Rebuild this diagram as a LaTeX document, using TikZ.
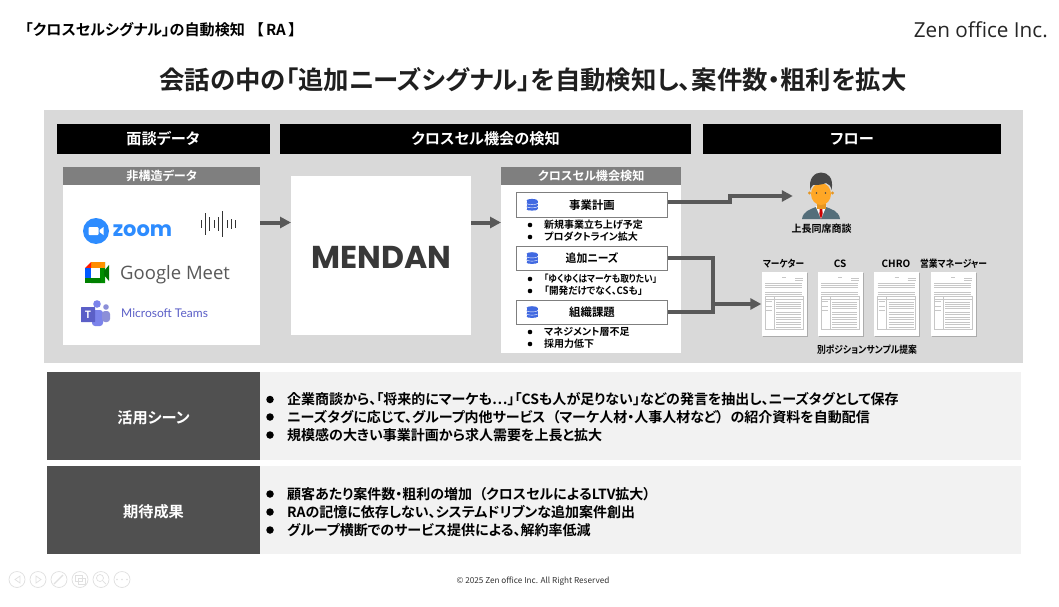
\documentclass[tikz,border=0pt]{standalone}
\usepackage{fontspec}
\setmainfont{Noto Sans CJK JP}[BoldFont={* Bold},RawFeature=+palt]
\setsansfont{Liberation Sans}
\newfontfamily\latin{Open Sans}
\newfontfamily\ms{Lato}
\newfontfamily\mont{Poppins}
\usetikzlibrary{arrows.meta,shadows}
\definecolor{panel}{HTML}{D9D9D9}
\definecolor{hdrgray}{HTML}{7F7F7F}
\definecolor{dark}{HTML}{505050}
\definecolor{soft}{HTML}{F2F2F2}
\definecolor{arrowc}{HTML}{595959}
\definecolor{zoomb}{HTML}{2D8CFF}
\definecolor{dbblue}{HTML}{4169E1}
\newcommand{\nar}[2]{\scalebox{#1}[1]{#2}}
\tikzset{
  blackhdr/.style={fill=black,text=white,font=\bfseries\fontsize{15.2}{15.2}\selectfont,inner sep=0pt,anchor=center},
  grayhdr/.style={fill=hdrgray,text=white,font=\bfseries\fontsize{12.1}{12.1}\selectfont,inner sep=0pt},
  whitebox/.style={fill=white,inner sep=0pt},
  item/.style={draw=hdrgray,line width=.6pt,fill=white,inner sep=0pt,font=\bfseries\fontsize{11.4}{11.4}\selectfont,minimum width=151pt,minimum height=24.6pt},
  flow/.style={draw=arrowc,line width=4pt,-{Triangle[length=11pt,width=11pt]}},
  flowline/.style={draw=arrowc,line width=4pt},
  blt/.style={anchor=west,inner sep=0pt,font=\fontsize{10}{10}\selectfont\bfseries},
  lbl/.style={inner sep=0pt,font=\bfseries\fontsize{10}{10}\selectfont},
  dott/.style={circle,fill=black,inner sep=0pt,minimum size=4.6pt},
  bigdot/.style={circle,fill=black,inner sep=0pt,minimum size=7.5pt},
  row/.style={anchor=west,inner sep=0pt,font=\bfseries\fontsize{14}{14}\selectfont},
  side/.style={fill=dark,inner sep=0pt,minimum width=212.5pt},
  sidetxt/.style={text=white,font=\bfseries\fontsize{15.2}{15.2}\selectfont,inner sep=0pt},
  rowbg/.style={fill=soft,inner sep=0pt},
  sheet/.style={fill=white,inner sep=0pt,minimum width=45pt,minimum height=64.5pt,drop shadow={shadow xshift=1pt,shadow yshift=-1pt,opacity=.5}},
  navbtn/.style={circle,draw=black!12,line width=.7pt,minimum size=16pt,inner sep=0pt}
}
\newcommand{\dbicon}[2]{%
  \foreach \k in {0,3.2,6.4}{\fill[dbblue] (#1-5.5,#2-4.5+\k) rectangle (#1+5.5,#2-2+\k);
  \fill[dbblue] (#1,#2-4.5+\k) ellipse (5.5pt and 1.6pt);\fill[dbblue] (#1,#2-2+\k) ellipse (5.5pt and 1.2pt);}
  \draw[white,line width=.4pt] (#1-5.5,#2-1.4) .. controls (#1-3,#2) and (#1+3,#2) .. (#1+5.5,#2-1.4);
  \draw[white,line width=.4pt] (#1-5.5,#2+1.8) .. controls (#1-3,#2+3.2) and (#1+3,#2+3.2) .. (#1+5.5,#2+1.8);}
\newcommand{\docsheet}[1]{%
  \begin{scope}[shift={(#1)},draw=black!22,line width=.12pt]
   \draw (20,5)--(24,5) (33,6)--(41,6) (33,8)--(41,8);
   \foreach \yy in {11,13,15,20,22}{\draw (3,\yy)--(40,\yy);}
   \draw (3,24.5) rectangle (41,57);
   \draw (3,27)--(41,27) (12,24.5)--(12,57);
   \foreach \yy in {30,32,34,36,40,42,45,47,50,52,55}{\draw (14,\yy)--(39,\yy);}
   \foreach \yy in {29,34,38}{\draw (4,\yy)--(10,\yy);}
  \end{scope}}
\begin{document}
\begin{tikzpicture}[x=1pt,y=-1pt]
\useasboundingbox (0,0) rectangle (1059,607);
\fill[white] (0,0) rectangle (1059,607);
% top
\node[inner sep=0pt,anchor=west,font=\bfseries\fontsize{15.1}{15.1}\selectfont] (crumb) at (25,30) {「クロスセルシグナル」の自動検知\hspace{11pt}【\,RA\,】};
\node[inner sep=0pt,anchor=east,font=\latin\fontsize{20.7}{20.7}\selectfont,text=black!85] (brand) at (1048,30) {Zen office Inc.};
\node[inner sep=0pt,font=\bfseries\fontsize{25.4}{25.4}\selectfont,text=black!88] (title) at (533,79.5) {会話の中の「追加ニーズシグナル」を自動検知し、案件数・粗利を拡大};
% panel
\node[fill=panel,inner sep=0pt,minimum width=979pt,minimum height=253pt,anchor=north west] (panelbox) at (44,110) {};
\node[blackhdr,minimum width=213pt,minimum height=30pt] (h1) at (163,139) {面談データ};
\node[blackhdr,minimum width=411pt,minimum height=30pt] (h2) at (485.5,139) {クロスセル機会の検知};
\node[blackhdr,minimum width=298pt,minimum height=30pt] (h3) at (852,139) {フロー};
% left card
\node[whitebox,minimum width=197pt,minimum height=178pt,anchor=north west] (leftcard) at (63,167) {};
\node[grayhdr,minimum width=197pt,minimum height=18pt,anchor=north west] (lefthdr) at (63,167) {非構造データ};
% zoom
\fill[zoomb] (96,231) circle (13pt);
\fill[white,rounded corners=1pt] (88.5,227) rectangle (98.5,235);
\fill[white] (99.5,230)--(103.5,227)--(103.5,235)--(99.5,232)--cycle;
\node[inner sep=0pt,font=\mont\bfseries\fontsize{21}{21}\selectfont,text=zoomb] (zoomlogo) at (142.5,231) {zoom};
% waveform
\foreach \xx/\hh in {201/4,205/11,209/7,214/4,218/7,222/13,227/4,231/5,235/4}{\draw[black!80,line width=.8pt] (\xx,224-\hh)--(\xx,224+\hh);}
% meet
\fill[green!55!black] (96,272) -- (96,262)--(101,262)--(105,262)--(105,283)--(91,283)--(91,272)--cycle;
\fill[orange!90!yellow] (91,262) rectangle (101,268);
\fill[red!80!orange] (85,268) -- (91,262) -- (91,268) -- cycle;
\fill[blue!65!cyan] (85,268) rectangle (91,278);
\fill[green!50!black] (85,278) rectangle (101,283);
\fill[orange!85!yellow] (101,262) rectangle (105,268);
\fill[white] (91,268) rectangle (100,278);
\fill[green!45!black] (104,271)--(109,265)--(109,281)--(104,275)--cycle;
\node[inner sep=0pt,font=\latin\fontsize{18.5}{18.5}\selectfont,text=black!65,anchor=west] (meetlogo) at (120,275) {Google Meet};
% teams
\definecolor{teams}{HTML}{5B5FC7}\definecolor{teamsl}{HTML}{7B83EB}
\fill[teamsl] (97,304) circle (3.8pt);\fill[teams!70] (106,307) circle (2.8pt);
\fill[teamsl,rounded corners=3pt] (92,310) rectangle (103,326);
\fill[teams!70,rounded corners=3pt] (102,311) rectangle (110,322);
\fill[teams,rounded corners=.5pt] (81,307) rectangle (95,322);
\node[inner sep=0pt,text=white,font=\bfseries\fontsize{10}{10}\selectfont] (teamsT) at (88,314.5) {T};
\node[inner sep=0pt,font=\ms\fontsize{12}{12}\selectfont,text=teams,anchor=west] (teamslogo) at (121,313) {Microsoft Teams};
% mendan
\node[whitebox,minimum width=180pt,minimum height=159pt,anchor=north west] (mendan) at (291,176) {};
\node[inner sep=0pt,font=\mont\bfseries\fontsize{31.6}{31.6}\selectfont,text=black!78] (mendantxt) at (381.5,257) {MENDAN};
% cross-sell card
\node[whitebox,minimum width=180pt,minimum height=186pt,anchor=north west] (cscard) at (501,167) {};
\node[grayhdr,minimum width=180pt,minimum height=18pt,anchor=north west] (cshdr) at (501,167) {クロスセル機会検知};
\node[item] (i1) at (592,205) {事業計画};
\node[item] (i2) at (592,258.3) {\nar{.95}{追加ニーズ}};
\node[item] (i3) at (592,312.3) {組織課題};
\dbicon{532}{205}\dbicon{532}{258.3}\dbicon{532}{312.3}
\foreach \yy/\tx in {225/新規事業立ち上げ予定,237/プロダクトライン拡大,279/\nar{.87}{「ゆくゆくはマーケも取りたい」},291/\nar{.96}{「開発だけでなく、CSも」},332/マネジメント層不足,344/採用力低下}{
  \node[dott] at (530,\yy) {};
  \node[blt] at (544,\yy) {\tx};
}
% flow
\coordinate (ar1a) at (260,222.5);\coordinate (ar2a) at (471,222.5);
\draw[flow] (ar1a) -- (mendan.west |- ar1a);
\draw[flow] (ar2a) -- (cscard.west |- ar2a);
\node[inner sep=0pt,minimum width=44pt,minimum height=48pt] (boss) at (815,195) {};
\coordinate (i1out) at ([yshift=3pt]i1.east);
\draw[flow] (i1out) -- ++(62,0) coordinate (b1) |- (boss.west |- 0,196);
\coordinate (join) at (713,304);
\node[sheet] (s1) at (784,304) {};
\node[sheet] (s2) at (840,304) {};
\node[sheet] (s3) at (896.5,304) {};
\node[sheet] (s4) at (953,304) {};
\draw[flowline] (i2.east) -| (join);
\draw[flowline] (i3.east) -| (join);
\draw[flow] (join) -- (s1.west);
\docsheet{762,272}\docsheet{818,272}\docsheet{874.5,272}\docsheet{931,272}
% person
\definecolor{suit}{HTML}{546E7A}\definecolor{skin}{HTML}{FFA726}
\fill[suit] (802,219) .. controls (803,211) and (811,209) .. (816,207) -- (826,207) .. controls (831,209) and (839,211) .. (840,219) -- cycle;
\fill[white] (815.5,206)--(826.5,206)--(821,219)--cycle;
\fill[red!80!black] (819.7,208)--(822.3,208)--(822.6,214)--(821,219)--(819.4,214)--cycle;
\fill[skin!90!black] (816.5,203) rectangle (825.5,208.5);
\fill[skin] (821,194) ellipse (10pt and 11pt);
\fill[skin!90!black] (809.5,193) circle (1.6pt) (832.5,193) circle (1.6pt);
\fill[black!72] (810.5,190) .. controls (808,178) and (815,172.5) .. (821,172.5) .. controls (828,172.5) and (834,178) .. (831.5,190) .. controls (831,186) and (829,184) .. (826,183) .. controls (822,185) and (816,185) .. (813,185) .. controls (811.5,186) and (811,188) .. (810.5,190) -- cycle;
\fill[black!72] (816.5,193) circle (.9pt) (825.5,193) circle (.9pt);
\node[lbl] (bosslbl) at (821.5,229) {上長同席商談};
\node[lbl] (sl1) at (783.5,264) {\nar{.87}{マーケター}};
\node[lbl] (sl2) at (840,264) {CS};
\node[lbl] (sl3) at (896,264) {CHRO};
\node[lbl] (sl4) at (953.5,264) {\nar{.88}{営業マネージャー}};
\node[lbl] (sl5) at (867,349.5) {\nar{.88}{別ポジションサンプル提案}};
% bottom rows
\node[rowbg,minimum width=974pt,minimum height=88pt,anchor=north west] (r1) at (47,372) {};
\node[side,minimum height=88pt,anchor=north west] (s1b) at (47,372) {};
\node[sidetxt] (s1t) at (153.5,417.5) {活用シーン};
\node[rowbg,minimum width=974pt,minimum height=88pt,anchor=north west] (r2) at (47,466) {};
\node[side,minimum height=88pt,anchor=north west] (s2b) at (47,466) {};
\node[sidetxt] (s2t) at (153.5,511.5) {期待成果};
\foreach \yy/\tx in {399.5/企業商談から、「将来的にマーケも…」「CSも人が足りない」などの発言を抽出し、ニーズタグとして保存,417/ニーズタグに応じて、グループ内他サービス\hspace{7pt}（マーケ人材・人事人材など）\hspace{7pt}の紹介資料を自動配信,435/規模感の大きい事業計画から求人需要を上長と拡大,494/顧客あたり案件数・粗利の増加\hspace{7pt}（クロスセルによるLTV拡大）\hspace{7pt},512/RAの記憶に依存しない、システムドリブンな追加案件創出,530/グループ横断でのサービス提供による、解約率低減}{
  \node[bigdot] at (270,\yy) {};
  \node[row] at (287,\yy) {\tx};
}
% footer
\node[inner sep=0pt,font=\fontsize{8.2}{8.2}\selectfont,text=black!80] (foot) at (533,581) {© 2025 Zen office Inc. All Right Reserved};
\foreach \xx in {17,38,59,80,101,122}{\node[navbtn] at (\xx,579.5) {};}
\draw[black!12,line width=.7pt] (20,576)--(15,579.5)--(20,583)--cycle (36,576)--(41,579.5)--(36,583)--cycle;
\draw[black!12,line width=1.2pt] (54,584)--(63,575);
\draw[black!12,line width=.7pt] (75,575) rectangle (82,581) (78,578) rectangle (85,584);
\draw[black!12,line width=.7pt] (100,578) circle (3.5pt) (103,581)--(106,584);
\fill[black!12] (117,579.5) circle (.9pt) (122,579.5) circle (.9pt) (127,579.5) circle (.9pt);
\end{tikzpicture}
\end{document}
